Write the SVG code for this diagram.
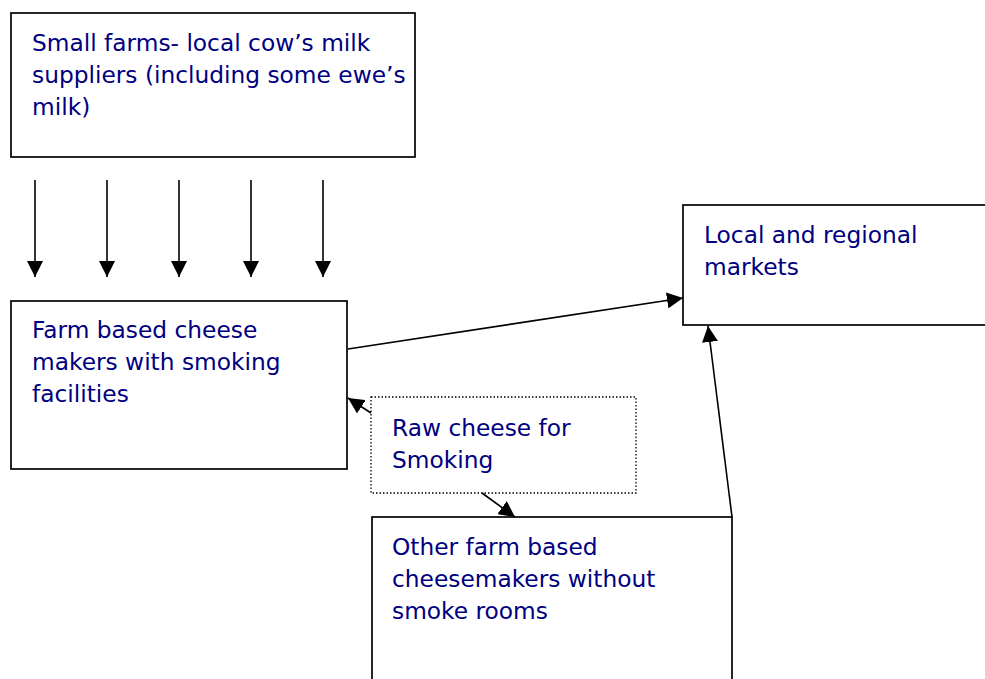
<svg xmlns="http://www.w3.org/2000/svg" width="985" height="679" viewBox="0 0 985 679">
<style>
.box{fill:#fff;stroke:#000;stroke-width:1.7}
.dot{fill:#fff;stroke:#000;stroke-width:1.3;stroke-dasharray:1.5 2}
.t{font-family:"DejaVu Sans",Verdana,sans-serif;font-size:23.3px;fill:#000080}
.c{stroke:#000;stroke-width:1.6;fill:none;marker-end:url(#ah)}
</style>
<defs>
<marker id="ah" markerUnits="userSpaceOnUse" markerWidth="16" markerHeight="16" viewBox="0 0 16 16" refX="16" refY="8" orient="auto">
<path d="M0,0 L16,8 L0,16 Z" fill="#000"/>
</marker>
</defs>
<rect x="0" y="0" width="985" height="679" fill="#fff"/>
<g id="n1">
<rect class="box" x="11" y="13" width="404" height="144"/>
<text class="t"><tspan x="32" y="51">Small farms- local cow’s milk</tspan><tspan x="32" y="83">suppliers (including some ewe’s</tspan><tspan x="32" y="115">milk)</tspan></text>
</g>
<g id="n2">
<rect class="box" x="11" y="301" width="336" height="168"/>
<text class="t"><tspan x="32" y="338">Farm based cheese</tspan><tspan x="32" y="370">makers with smoking</tspan><tspan x="32" y="402">facilities</tspan></text>
</g>
<g id="n3">
<rect class="box" x="683" y="205" width="310" height="120"/>
<text class="t"><tspan x="704" y="243">Local and regional</tspan><tspan x="704" y="275">markets</tspan></text>
</g>
<g id="n4">
<rect class="dot" x="371" y="397" width="265" height="96"/>
<text class="t"><tspan x="392" y="436">Raw cheese for</tspan><tspan x="392" y="468">Smoking</tspan></text>
</g>
<g id="n5">
<rect class="box" x="372" y="517" width="360" height="170"/>
<text class="t"><tspan x="392" y="555">Other farm based</tspan><tspan x="392" y="587">cheesemakers without</tspan><tspan x="392" y="619">smoke rooms</tspan></text>
</g>
<g id="connectors">
<line class="c" x1="35" y1="180" x2="35" y2="277"/>
<line class="c" x1="107" y1="180" x2="107" y2="277"/>
<line class="c" x1="179" y1="180" x2="179" y2="277"/>
<line class="c" x1="251" y1="180" x2="251" y2="277"/>
<line class="c" x1="323" y1="180" x2="323" y2="277"/>
<line class="c" x1="348" y1="349" x2="683" y2="298"/>
<line class="c" x1="732" y1="517" x2="708" y2="326"/>
<line class="c" x1="371" y1="413" x2="348" y2="398"/>
<line class="c" x1="482" y1="493" x2="515" y2="517"/>
</g>
</svg>
